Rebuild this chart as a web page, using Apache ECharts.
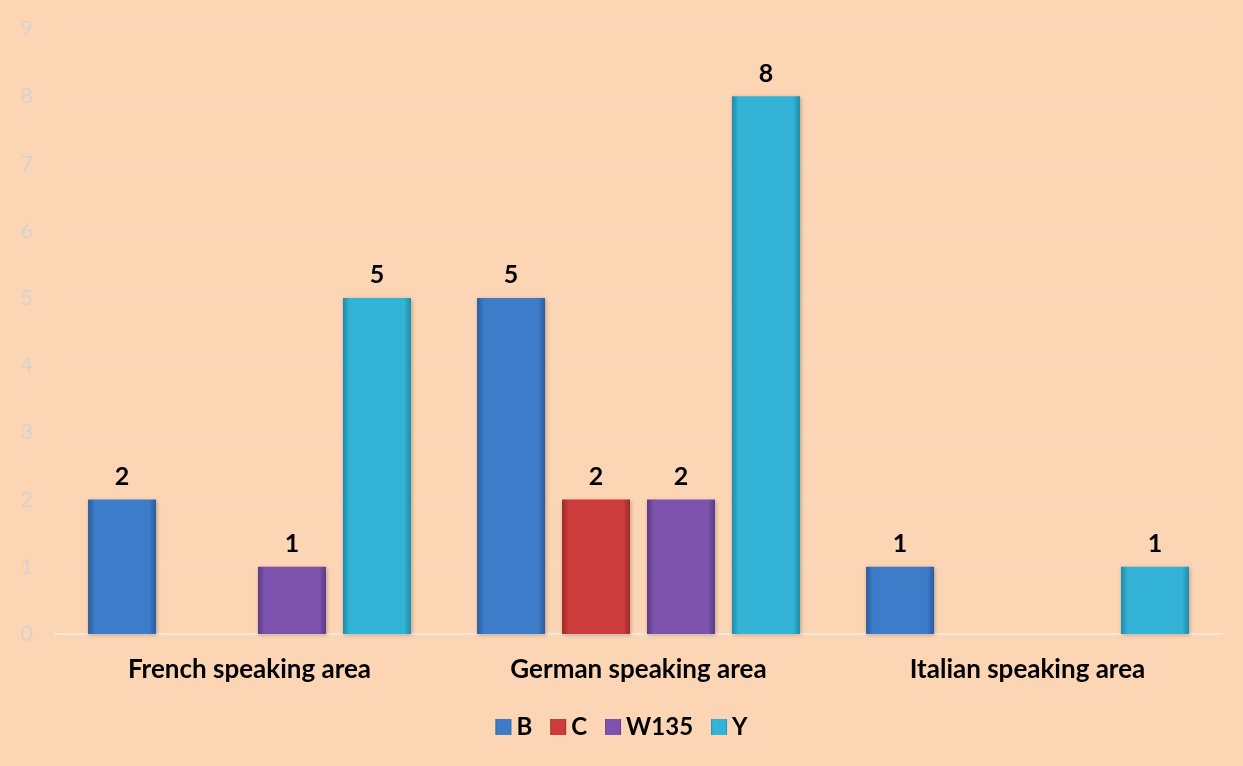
<!DOCTYPE html>
<html>
<head>
<meta charset="utf-8">
<script src="https://cdn.jsdelivr.net/npm/echarts@6/dist/echarts.min.js"></script>
<style>
  html, body { margin: 0; padding: 0; background: #fcd5b5; }
  #chart { width: 1243px; height: 766px; }
</style>
</head>
<body>
<div id="chart"></div>
<script>
// Categories and series counts
const categories = ['French speaking area', 'German speaking area', 'Italian speaking area'];
const seriesB = [2, 5, 1];
const seriesC = [null, 2, null];
const seriesW135 = [1, 2, null];
const seriesY = [5, 8, 1];
const yTicks = [0, 1, 2, 3, 4, 5, 6, 7, 8, 9];

const FONT = 'Lato, "Open Sans", sans-serif';

// Horizontal gradient that darkens the bar edges for a bevelled look
function bevel(mid, dark) {
  return new echarts.graphic.LinearGradient(0, 0, 1, 0, [
    { offset: 0, color: dark },
    { offset: 0.1, color: mid },
    { offset: 0.9, color: mid },
    { offset: 1, color: dark }
  ]);
}

function makeSeries(name, data, light, mid, dark) {
  return {
    name: name,
    type: 'bar',
    data: data,
    barGap: '25%',
    barCategoryGap: '17%',
    itemStyle: {
      color: bevel(mid, dark),
      borderColor: light,
      borderWidth: 0,
      shadowColor: 'rgba(0,0,0,0.25)',
      shadowBlur: 4,
      shadowOffsetX: 1,
      shadowOffsetY: 1
    },
    label: {
      show: true,
      position: 'top',
      distance: 10,
      fontFamily: FONT,
      fontWeight: 'bold',
      fontSize: 25,
      color: '#000'
    }
  };
}

const chart = echarts.init(document.getElementById('chart'));
chart.setOption({
  backgroundColor: '#fcd5b5',
  animation: false,
  grid: { left: 55, right: 21, top: 29, bottom: 132 },
  legend: {
    bottom: 22,
    left: 'center',
    itemWidth: 16,
    itemHeight: 16,
    itemGap: 18,
    textStyle: { fontFamily: FONT, fontWeight: 'bold', fontSize: 24, color: '#000' },
    data: [
      { name: 'B', icon: 'rect' },
      { name: 'C', icon: 'rect' },
      { name: 'W135', icon: 'rect' },
      { name: 'Y', icon: 'rect' }
    ]
  },
  xAxis: {
    type: 'category',
    data: categories,
    axisLine: { lineStyle: { color: '#f3e6da', width: 2 } },
    axisTick: { show: false },
    axisLabel: {
      margin: 23,
      fontFamily: FONT,
      fontWeight: 'bold',
      fontSize: 26,
      color: '#000'
    }
  },
  yAxis: {
    type: 'value',
    min: yTicks[0],
    max: yTicks[yTicks.length - 1],
    interval: 1,
    axisLine: { show: false },
    axisTick: { show: false },
    splitLine: { lineStyle: { color: '#f9dac0', width: 1 } },
    axisLabel: {
      margin: 22,
      fontFamily: FONT,
      fontSize: 22,
      color: '#d9d2cc'
    }
  },
  series: [
    makeSeries('B', seriesB, '#6aa5e6', '#3d7cc9', '#2a5c9c'),
    makeSeries('C', seriesC, '#ea6a6a', '#cc3c3c', '#9c2a2a'),
    makeSeries('W135', seriesW135, '#a987d6', '#7d53ad', '#5a3a85'),
    makeSeries('Y', seriesY, '#6ad6f0', '#33b3d6', '#1f8aa8')
  ]
});
</script>
</body>
</html>
